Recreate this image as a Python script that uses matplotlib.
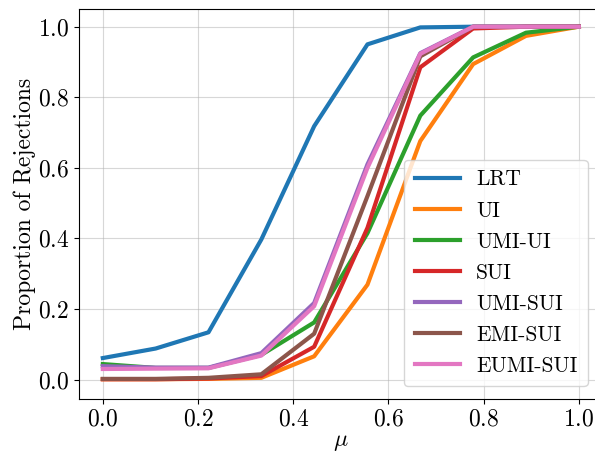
import matplotlib
matplotlib.use("Agg")
import matplotlib.pyplot as plt

plt.rcParams["font.family"] = "serif"
plt.rcParams["font.serif"] = ["cmr10"]
plt.rcParams["mathtext.fontset"] = "cm"
plt.rcParams["axes.formatter.use_mathtext"] = True

mu = [0.0, 0.111, 0.222, 0.333, 0.444, 0.556, 0.667, 0.778, 0.889, 1.0]

lrt = [0.061, 0.088, 0.134, 0.397, 0.718, 0.950, 0.998, 1.0, 1.0, 1.0]
ui = [0.001, 0.001, 0.002, 0.005, 0.066, 0.269, 0.676, 0.894, 0.974, 1.0]
umi_ui = [0.044, 0.033, 0.033, 0.070, 0.162, 0.415, 0.748, 0.913, 0.983, 1.0]
sui = [0.001, 0.001, 0.003, 0.010, 0.093, 0.430, 0.885, 0.995, 1.0, 1.0]
umi_sui = [0.038, 0.034, 0.034, 0.075, 0.217, 0.610, 0.925, 1.0, 1.0, 1.0]
emi_sui = [0.002, 0.002, 0.005, 0.015, 0.130, 0.520, 0.916, 1.0, 1.0, 1.0]
eumi_sui = [0.030, 0.031, 0.032, 0.068, 0.208, 0.600, 0.923, 1.0, 1.0, 1.0]

series = [
    ("LRT", lrt),
    ("UI", ui),
    ("UMI-UI", umi_ui),
    ("SUI", sui),
    ("UMI-SUI", umi_sui),
    ("EMI-SUI", emi_sui),
    ("EUMI-SUI", eumi_sui),
]

fig = plt.figure(figsize=(5.95, 4.55), dpi=100)
ax = fig.add_axes([0.1328, 0.1231, 0.88, 0.857])

for name, vals in series:
    ax.plot(mu, vals, linewidth=3, label=name)

ax.set_xlim(-0.05, 1.05)
ax.set_ylim(-0.055, 1.05)
ax.set_xticks([0.0, 0.2, 0.4, 0.6, 0.8, 1.0])
ax.set_yticks([0.0, 0.2, 0.4, 0.6, 0.8, 1.0])
ax.tick_params(labelsize=17)
ax.spines["right"].set_visible(False)
ax.set_xlabel(r"$\mu$", fontsize=17, labelpad=0)
ax.set_ylabel("Proportion of Rejections", fontsize=17, labelpad=1)
ax.grid(alpha=0.5)
ax.legend(loc="lower right", fontsize=15.5, handlelength=2.1,
          handletextpad=0.75, labelspacing=0.535, borderpad=0.48,
          borderaxespad=0, bbox_to_anchor=(0.9713, 0.0333))

fig.savefig("out.png", dpi=100)
